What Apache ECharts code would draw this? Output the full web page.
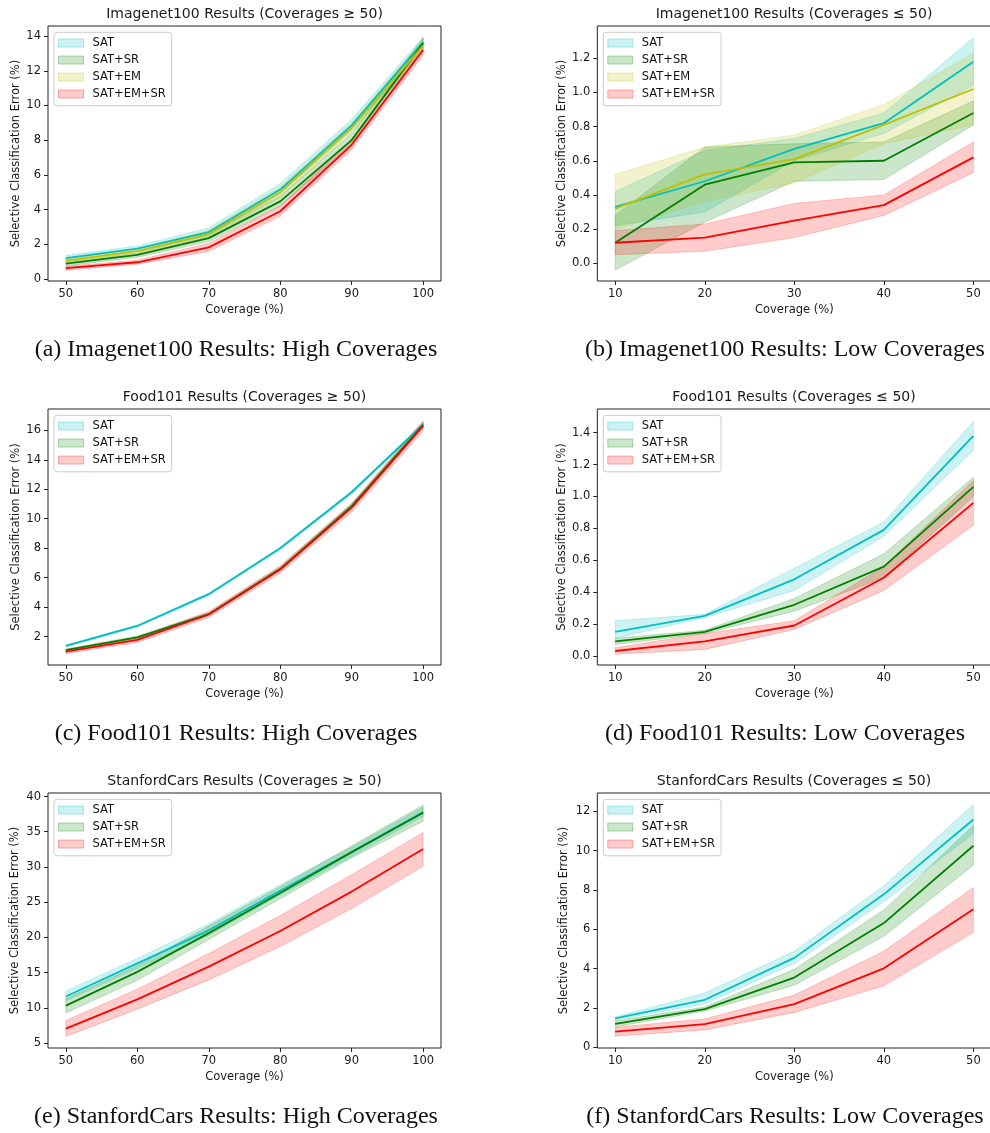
<!DOCTYPE html>
<html><head><meta charset="utf-8">
<script src="https://cdn.jsdelivr.net/npm/echarts@6/dist/echarts.min.js"></script>
<style>html,body{margin:0;padding:0;background:#fff}#c{width:990px;height:1133px}</style>
</head><body><div id="c"></div><script>
// ---------- data ----------
const xHigh = [50, 60, 70, 80, 90, 100];
const xLow = [10, 20, 30, 40, 50];
const xHighTicks = [50, 60, 70, 80, 90, 100];
const xLowTicks = [10, 20, 30, 40, 50];

// (a) Imagenet100, high coverages
const inHi_SAT = [1.2, 1.75, 2.7, 5.15, 8.85, 13.65];
const inHi_SAT_lo = [1.05, 1.6, 2.5, 4.9, 8.5, 13.4];
const inHi_SAT_hi = [1.35, 1.9, 2.95, 5.5, 9.2, 13.95];
const inHi_SR = [0.88, 1.38, 2.35, 4.47, 8.0, 13.6];
const inHi_SR_lo = [0.75, 1.25, 2.15, 4.2, 7.7, 13.3];
const inHi_SR_hi = [1.0, 1.5, 2.6, 4.8, 8.35, 13.9];
const inHi_EM = [1.05, 1.6, 2.6, 5.0, 8.7, 13.45];
const inHi_EM_lo = [0.9, 1.45, 2.4, 4.7, 8.4, 13.15];
const inHi_EM_hi = [1.2, 1.75, 2.8, 5.3, 9.0, 13.8];
const inHi_EMSR = [0.62, 0.96, 1.82, 3.9, 7.73, 13.2];
const inHi_EMSR_lo = [0.5, 0.85, 1.58, 3.62, 7.45, 12.9];
const inHi_EMSR_hi = [0.73, 1.08, 2.05, 4.2, 8.05, 13.5];
const inHiYTicks = [0, 2, 4, 6, 8, 10, 12, 14];

// (b) Imagenet100, low coverages
const inLo_SAT = [0.33, 0.48, 0.67, 0.82, 1.18];
const inLo_SAT_lo = [0.22, 0.30, 0.60, 0.76, 1.04];
const inLo_SAT_hi = [0.42, 0.66, 0.73, 0.88, 1.32];
const inLo_SR = [0.12, 0.46, 0.59, 0.60, 0.88];
const inLo_SR_lo = [-0.04, 0.24, 0.48, 0.49, 0.81];
const inLo_SR_hi = [0.28, 0.68, 0.70, 0.71, 0.95];
const inLo_EM = [0.32, 0.52, 0.61, 0.81, 1.02];
const inLo_EM_lo = [0.20, 0.36, 0.47, 0.70, 0.81];
const inLo_EM_hi = [0.52, 0.68, 0.75, 0.93, 1.23];
const inLo_EMSR = [0.12, 0.15, 0.25, 0.34, 0.62];
const inLo_EMSR_lo = [0.05, 0.07, 0.15, 0.28, 0.53];
const inLo_EMSR_hi = [0.19, 0.23, 0.35, 0.40, 0.71];
const inLoYTicks = [0.0, 0.2, 0.4, 0.6, 0.8, 1.0, 1.2];

// (c) Food101, high coverages
const fdHi_SAT = [1.37, 2.72, 4.88, 8.0, 11.8, 16.4];
const fdHi_SAT_lo = [1.3, 2.65, 4.8, 7.92, 11.7, 16.3];
const fdHi_SAT_hi = [1.44, 2.8, 4.96, 8.08, 11.9, 16.5];
const fdHi_SR = [1.08, 1.95, 3.52, 6.6, 10.85, 16.38];
const fdHi_SR_lo = [1.0, 1.86, 3.42, 6.48, 10.7, 16.2];
const fdHi_SR_hi = [1.16, 2.04, 3.62, 6.72, 11.0, 16.55];
const fdHi_EMSR = [0.98, 1.77, 3.5, 6.55, 10.75, 16.3];
const fdHi_EMSR_lo = [0.85, 1.6, 3.3, 6.3, 10.45, 15.95];
const fdHi_EMSR_hi = [1.12, 1.95, 3.7, 6.8, 11.05, 16.65];
const fdHiYTicks = [2, 4, 6, 8, 10, 12, 14, 16];

// (d) Food101, low coverages
const fdLo_SAT = [0.15, 0.25, 0.48, 0.79, 1.38];
const fdLo_SAT_lo = [0.11, 0.24, 0.41, 0.75, 1.29];
const fdLo_SAT_hi = [0.22, 0.26, 0.55, 0.84, 1.47];
const fdLo_SR = [0.09, 0.15, 0.32, 0.56, 1.06];
const fdLo_SR_lo = [0.07, 0.14, 0.28, 0.49, 1.0];
const fdLo_SR_hi = [0.11, 0.16, 0.36, 0.64, 1.12];
const fdLo_EMSR = [0.03, 0.09, 0.19, 0.49, 0.96];
const fdLo_EMSR_lo = [0.01, 0.04, 0.165, 0.41, 0.82];
const fdLo_EMSR_hi = [0.05, 0.14, 0.22, 0.56, 1.10];
const fdLoYTicks = [0.0, 0.2, 0.4, 0.6, 0.8, 1.0, 1.2, 1.4];

// (e) StanfordCars, high coverages
const scHi_SAT = [11.6, 16.3, 21.0, 26.6, 32.1, 37.8];
const scHi_SAT_lo = [11.0, 15.6, 20.3, 26.0, 31.5, 37.2];
const scHi_SAT_hi = [12.4, 17.0, 21.9, 27.5, 32.8, 38.5];
const scHi_SR = [10.3, 15.1, 20.6, 26.3, 32.1, 37.7];
const scHi_SR_lo = [9.25, 13.9, 19.7, 25.5, 31.3, 36.5];
const scHi_SR_hi = [11.3, 16.0, 21.6, 27.2, 33.0, 38.8];
const scHi_EMSR = [7.03, 11.2, 15.85, 20.9, 26.5, 32.55];
const scHi_EMSR_lo = [5.94, 9.8, 13.96, 18.7, 24.1, 30.1];
const scHi_EMSR_hi = [8.2, 12.65, 17.7, 23.1, 28.9, 34.9];
const scHiYTicks = [5, 10, 15, 20, 25, 30, 35, 40];

// (f) StanfordCars, low coverages
const scLo_SAT = [1.48, 2.42, 4.55, 7.78, 11.58];
const scLo_SAT_lo = [1.40, 2.2, 4.27, 7.41, 10.86];
const scLo_SAT_hi = [1.55, 2.76, 4.89, 8.22, 12.34];
const scLo_SR = [1.2, 1.95, 3.55, 6.32, 10.25];
const scLo_SR_lo = [1.05, 1.85, 3.16, 5.65, 9.26];
const scLo_SR_hi = [1.35, 2.05, 3.97, 6.99, 11.28];
const scLo_EMSR = [0.8, 1.18, 2.2, 4.02, 7.02];
const scLo_EMSR_lo = [0.57, 0.89, 1.78, 3.13, 5.85];
const scLo_EMSR_hi = [1.02, 1.45, 2.66, 4.89, 8.13];
const scLoYTicks = [0, 2, 4, 6, 8, 10, 12];

const titles = [
  'Imagenet100 Results (Coverages \u2265 50)', 'Imagenet100 Results (Coverages \u2264 50)',
  'Food101 Results (Coverages \u2265 50)', 'Food101 Results (Coverages \u2264 50)',
  'StanfordCars Results (Coverages \u2265 50)', 'StanfordCars Results (Coverages \u2264 50)'
];
const captions = [
  '(a) Imagenet100 Results: High Coverages', '(b) Imagenet100 Results: Low Coverages',
  '(c) Food101 Results: High Coverages', '(d) Food101 Results: Low Coverages',
  '(e) StanfordCars Results: High Coverages', '(f) StanfordCars Results: Low Coverages'
];
const xName = 'Coverage (%)';
const yName = 'Selective Classification Error (%)';

// ---------- styling / layout ----------
const FONT = 'DejaVu Sans';
const FS = 11.5;
const COLORS = { 'SAT': '#00bfbf', 'SAT+SR': '#008000', 'SAT+EM': '#bfbf00', 'SAT+EM+SR': '#ff0000' };
function rgba(hex, a) {
  const n = parseInt(hex.slice(1), 16);
  return 'rgba(' + ((n >> 16) & 255) + ',' + ((n >> 8) & 255) + ',' + (n & 255) + ',' + a + ')';
}

const panels = [
  { x: xHigh, xTicks: xHighTicks, xMin: 47.5, xMax: 102.5, yTicks: inHiYTicks, yMin: -0.12, yMax: 14.58, dec: 0,
    m: [['SAT', inHi_SAT, inHi_SAT_lo, inHi_SAT_hi], ['SAT+SR', inHi_SR, inHi_SR_lo, inHi_SR_hi], ['SAT+EM', inHi_EM, inHi_EM_lo, inHi_EM_hi], ['SAT+EM+SR', inHi_EMSR, inHi_EMSR_lo, inHi_EMSR_hi]],
    L: { left: 48, top: 26, w: 393, h: 255, gapY: 26, capX: 236, capY: 350, titleX: 244.5 } },
  { x: xLow, xTicks: xLowTicks, xMin: 8, xMax: 52, yTicks: inLoYTicks, yMin: -0.104, yMax: 1.389, dec: 1,
    m: [['SAT', inLo_SAT, inLo_SAT_lo, inLo_SAT_hi], ['SAT+SR', inLo_SR, inLo_SR_lo, inLo_SR_hi], ['SAT+EM', inLo_EM, inLo_EM_lo, inLo_EM_hi], ['SAT+EM+SR', inLo_EMSR, inLo_EMSR_lo, inLo_EMSR_hi]],
    L: { left: 597.3, top: 26, w: 394, h: 255, gapY: 29.5, capX: 785, capY: 350, titleX: 794 } },
  { x: xHigh, xTicks: xHighTicks, xMin: 47.5, xMax: 102.5, yTicks: fdHiYTicks, yMin: 0.07, yMax: 17.45, dec: 0,
    m: [['SAT', fdHi_SAT, fdHi_SAT_lo, fdHi_SAT_hi], ['SAT+SR', fdHi_SR, fdHi_SR_lo, fdHi_SR_hi], ['SAT+EM+SR', fdHi_EMSR, fdHi_EMSR_lo, fdHi_EMSR_hi]],
    L: { left: 48, top: 409, w: 393, h: 256, gapY: 26, capX: 236, capY: 734, titleX: 244.5 } },
  { x: xLow, xTicks: xLowTicks, xMin: 8, xMax: 52, yTicks: fdLoYTicks, yMin: -0.058, yMax: 1.549, dec: 1,
    m: [['SAT', fdLo_SAT, fdLo_SAT_lo, fdLo_SAT_hi], ['SAT+SR', fdLo_SR, fdLo_SR_lo, fdLo_SR_hi], ['SAT+EM+SR', fdLo_EMSR, fdLo_EMSR_lo, fdLo_EMSR_hi]],
    L: { left: 597.3, top: 409, w: 394, h: 256, gapY: 29.5, capX: 785, capY: 734, titleX: 794 } },
  { x: xHigh, xTicks: xHighTicks, xMin: 47.5, xMax: 102.5, yTicks: scHiYTicks, yMin: 4.29, yMax: 40.5, dec: 0,
    m: [['SAT', scHi_SAT, scHi_SAT_lo, scHi_SAT_hi], ['SAT+SR', scHi_SR, scHi_SR_lo, scHi_SR_hi], ['SAT+EM+SR', scHi_EMSR, scHi_EMSR_lo, scHi_EMSR_hi]],
    L: { left: 48, top: 793, w: 393, h: 255, gapY: 27, capX: 236, capY: 1117, titleX: 244.5 } },
  { x: xLow, xTicks: xLowTicks, xMin: 8, xMax: 52, yTicks: scLoYTicks, yMin: -0.03, yMax: 12.93, dec: 0,
    m: [['SAT', scLo_SAT, scLo_SAT_lo, scLo_SAT_hi], ['SAT+SR', scLo_SR, scLo_SR_lo, scLo_SR_hi], ['SAT+EM+SR', scLo_EMSR, scLo_EMSR_lo, scLo_EMSR_hi]],
    L: { left: 597.3, top: 793, w: 394, h: 255, gapY: 27.5, capX: 785, capY: 1117, titleX: 794 } }
];

const TXT = '#1a1a1a';
const grid = [], xAxis = [], yAxis = [], series = [], legend = [], graphic = [];

panels.forEach((p, i) => {
  const L = p.L;
  grid.push({ left: L.left, top: L.top, width: L.w, height: L.h, show: true, borderColor: '#222', borderWidth: 1, backgroundColor: 'rgba(0,0,0,0)', containLabel: false, outerBoundsMode: 'none' });
  const common = {
    gridIndex: i, type: 'value',
    axisLine: { show: false, onZero: false },
    splitLine: { show: false },
    axisTick: { show: true, inside: false, length: 4, lineStyle: { color: '#222', width: 1 } },
    nameLocation: 'middle',
    nameTextStyle: { fontFamily: FONT, fontSize: FS, color: TXT }
  };
  xAxis.push(Object.assign({}, common, {
    min: p.xMin, max: p.xMax, name: xName, nameGap: 23.5,
    axisTick: Object.assign({}, common.axisTick, { customValues: p.xTicks }),
    axisLabel: { customValues: p.xTicks, margin: 7, fontFamily: FONT, fontSize: FS, color: TXT, formatter: v => String(v) }
  }));
  yAxis.push(Object.assign({}, common, {
    min: p.yMin, max: p.yMax, name: yName, nameGap: L.gapY, nameRotate: 90,
    axisTick: Object.assign({}, common.axisTick, { customValues: p.yTicks }),
    axisLabel: { customValues: p.yTicks, margin: 7, fontFamily: FONT, fontSize: FS, color: TXT, formatter: v => p.dec ? v.toFixed(p.dec) : String(Math.round(v)) }
  }));

  // bands first
  p.m.forEach(([name, mean, lo, hi]) => {
    const c = COLORS[name];
    series.push({
      type: 'custom', name: name, xAxisIndex: i, yAxisIndex: i, silent: true, z: 2,
      itemStyle: { color: rgba(c, 0.2) },
      data: p.x.map((xv, k) => [xv, lo[k], hi[k]]),
      encode: { x: 0, y: [1, 2] },
      renderItem: function (params, api) {
        if (params.dataIndex !== 0) return;
        const pts = [];
        for (let k = 0; k < p.x.length; k++) pts.push(api.coord([p.x[k], hi[k]]));
        for (let k = p.x.length - 1; k >= 0; k--) pts.push(api.coord([p.x[k], lo[k]]));
        return { type: 'polygon', shape: { points: pts }, style: { fill: rgba(c, 0.2), stroke: rgba(c, 0.2), lineWidth: 1 } };
      }
    });
  });
  // lines on top
  p.m.forEach(([name, mean]) => {
    series.push({
      type: 'line', name: name, xAxisIndex: i, yAxisIndex: i, z: 3,
      data: p.x.map((xv, k) => [xv, mean[k]]),
      showSymbol: false, symbol: 'none', silent: true,
      lineStyle: { color: COLORS[name], width: 1.8 },
      itemStyle: { color: COLORS[name] }
    });
  });

  legend.push({
    left: L.left + 6, top: L.top + 6.3, orient: 'vertical', selectedMode: false,
    itemWidth: 25, itemHeight: 8, itemGap: 3.5, padding: [4, 6, 5, 4],
    backgroundColor: 'rgba(255,255,255,0.8)', borderColor: '#cccccc', borderWidth: 1, borderRadius: 3,
    textStyle: { fontFamily: FONT, fontSize: FS, color: '#111', lineHeight: 13.5, padding: [0, 0, 0, 4] },
    data: p.m.map(([name]) => ({ name: name, icon: 'rect', itemStyle: { color: rgba(COLORS[name], 0.2), borderColor: rgba(COLORS[name], 0.3), borderWidth: 1 } }))
  });

  graphic.push({
    type: 'text', x: L.titleX, y: L.top - 11.3, silent: true,
    style: { text: titles[i], align: 'center', verticalAlign: 'middle', font: '14px "DejaVu Sans"', fill: TXT }
  });
  graphic.push({
    type: 'text', x: L.capX, y: L.capY, silent: true,
    style: { text: captions[i], align: 'center', verticalAlign: 'middle', font: '24px "Liberation Serif"', fill: '#111' }
  });
});

const chart = echarts.init(document.getElementById('c'), null, { renderer: 'canvas' });
chart.setOption({
  animation: false,
  backgroundColor: '#ffffff',
  grid, xAxis, yAxis, series, legend, graphic
});
</script></body></html>
